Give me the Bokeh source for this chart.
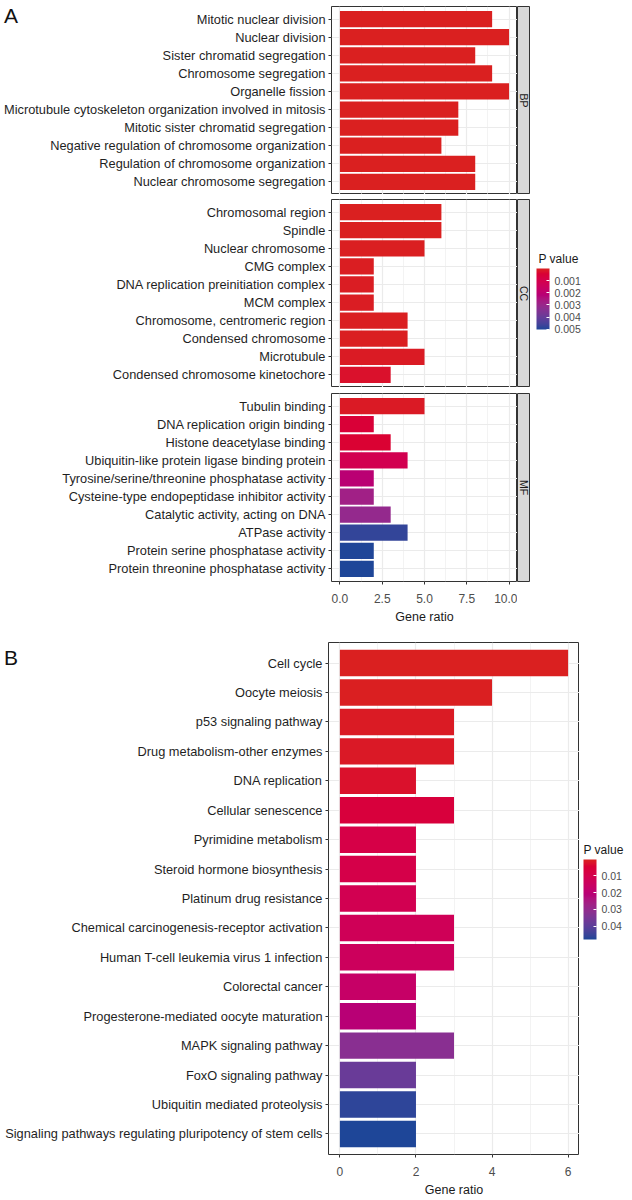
import math
from bokeh.plotting import figure
from bokeh.models import (ColumnDataSource, FactorRange, Range1d, FixedTicker, Div,
                          LinearColorMapper, ColorBar, CustomJSTickFormatter, Label, AllLabels)
from bokeh.layouts import row, column
from bokeh.core.properties import value
from bokeh.embed import file_html
from bokeh.resources import INLINE

FONT = "Liberation Sans"

# ---------------- data: panel A (GO) ----------------
bp_terms = ["Mitotic nuclear division", "Nuclear division", "Sister chromatid segregation",
            "Chromosome segregation", "Organelle fission",
            "Microtubule cytoskeleton organization involved in mitosis",
            "Mitotic sister chromatid segregation", "Negative regulation of chromosome organization",
            "Regulation of chromosome organization", "Nuclear chromosome segregation"]
bp_ratio = [9, 10, 8, 9, 10, 7, 7, 6, 8, 8]
bp_p = [2e-6, 1e-6, 5e-6, 3e-6, 1e-6, 8e-6, 1e-5, 2e-5, 4e-6, 6e-6]

cc_terms = ["Chromosomal region", "Spindle", "Nuclear chromosome", "CMG complex",
            "DNA replication preinitiation complex", "MCM complex",
            "Chromosome, centromeric region", "Condensed chromosome", "Microtubule",
            "Condensed chromosome kinetochore"]
cc_ratio = [6, 6, 5, 2, 2, 2, 4, 4, 5, 3]
cc_p = [1e-5, 2e-5, 3e-5, 5e-5, 6e-5, 6e-5, 4e-5, 4e-5, 8e-5, 2.5e-4]

mf_terms = ["Tubulin binding", "DNA replication origin binding", "Histone deacetylase binding",
            "Ubiquitin-like protein ligase binding protein",
            "Tyrosine/serine/threonine phosphatase activity",
            "Cysteine-type endopeptidase inhibitor activity",
            "Catalytic activity, acting on DNA", "ATPase activity",
            "Protein serine phosphatase activity", "Protein threonine phosphatase activity"]
mf_ratio = [5, 2, 3, 4, 2, 2, 3, 4, 2, 2]
mf_p = [1e-4, 5e-4, 4e-4, 1.1e-3, 2.1e-3, 2.8e-3, 3.1e-3, 4.8e-3, 5.0e-3, 5.02e-3]

go_ticks = [0, 2.5, 5, 7.5, 10]
go_tick_labels = ["0.0", "2.5", "5.0", "7.5", "10.0"]
go_minor = [1.25, 3.75, 6.25, 8.75]
go_legend_ticks = [0.001, 0.002, 0.003, 0.004, 0.005]
facet_names = ["BP", "CC", "MF"]

# ---------------- data: panel B (KEGG) ----------------
kegg_terms = ["Cell cycle", "Oocyte meiosis", "p53 signaling pathway",
              "Drug metabolism-other enzymes", "DNA replication", "Cellular senescence",
              "Pyrimidine metabolism", "Steroid hormone biosynthesis", "Platinum drug resistance",
              "Chemical carcinogenesis-receptor activation",
              "Human T-cell leukemia virus 1 infection", "Colorectal cancer",
              "Progesterone-mediated oocyte maturation", "MAPK signaling pathway",
              "FoxO signaling pathway", "Ubiquitin mediated proteolysis",
              "Signaling pathways regulating pluripotency of stem cells"]
kegg_ratio = [6, 4, 3, 3, 2, 3, 2, 2, 2, 3, 3, 2, 2, 3, 2, 2, 2]
kegg_p = [0.0002, 0.0005, 0.001, 0.0015, 0.0025, 0.006, 0.0085, 0.009, 0.011, 0.0125,
          0.014, 0.0165, 0.021, 0.032, 0.038, 0.0465, 0.048]
kegg_ticks = [0, 2, 4, 6]
kegg_minor = [1, 3, 5]
kegg_legend_ticks = [0.01, 0.02, 0.03, 0.04]

LOW_COLOR = (218, 32, 32)
HIGH_COLOR = (30, 70, 152)

# ---------------- geometry (pixels) ----------------
A_LEFT = 331
A_FRAME_W = 186
B_LEFT = 328
B_FRAME_W = 251
A_X = (-0.5, 10.5)
B_X = (-0.3, 6.3)
LABEL_SIZE = "12.8px"


# ---------------- LCh gradient palette ----------------
def _lin(c):
    c = c / 255.0
    return c / 12.92 if c <= 0.04045 else ((c + 0.055) / 1.055) ** 2.4


def _gam(c):
    c = max(0.0, min(1.0, c))
    v = 12.92 * c if c <= 0.0031308 else 1.055 * c ** (1 / 2.4) - 0.055
    return int(round(max(0, min(1, v)) * 255))


WX, WY, WZ = 0.95047, 1.0, 1.08883


def _f(t):
    d = 6 / 29
    return t ** (1 / 3) if t > d ** 3 else t / (3 * d * d) + 4 / 29


def _finv(t):
    d = 6 / 29
    return t ** 3 if t > d else 3 * d * d * (t - 4 / 29)


def rgb_to_lch(rgb):
    r, g, b = (_lin(c) for c in rgb)
    X = 0.4124 * r + 0.3576 * g + 0.1805 * b
    Y = 0.2126 * r + 0.7152 * g + 0.0722 * b
    Z = 0.0193 * r + 0.1192 * g + 0.9505 * b
    fx, fy, fz = _f(X / WX), _f(Y / WY), _f(Z / WZ)
    L = 116 * fy - 16
    a = 500 * (fx - fy)
    bb = 200 * (fy - fz)
    return L, math.hypot(a, bb), math.atan2(bb, a)


def lch_to_hex(L, C, h):
    a, bb = C * math.cos(h), C * math.sin(h)
    fy = (L + 16) / 116
    fx = fy + a / 500
    fz = fy - bb / 200
    X, Y, Z = WX * _finv(fx), WY * _finv(fy), WZ * _finv(fz)
    r = 3.2406 * X - 1.5372 * Y - 0.4986 * Z
    g = -0.9689 * X + 1.8758 * Y + 0.0415 * Z
    b = 0.0557 * X - 0.2040 * Y + 1.0570 * Z
    return "#%02x%02x%02x" % (_gam(r), _gam(g), _gam(b))


def make_palette(n=256):
    L1, C1, h1 = rgb_to_lch(LOW_COLOR)
    L2, C2, h2 = rgb_to_lch(HIGH_COLOR)
    out = []
    for i in range(n):
        t = i / (n - 1)
        out.append(lch_to_hex(L1 + (L2 - L1) * t, C1 + (C2 - C1) * t, h1 + (h2 - h1) * t))
    return out


PAL = make_palette()
PAL_REV = PAL[::-1]

go_all_p = bp_p + cc_p + mf_p
go_mapper = LinearColorMapper(palette=PAL, low=min(go_all_p), high=max(go_all_p))
kegg_mapper = LinearColorMapper(palette=PAL, low=min(kegg_p), high=max(kegg_p))

GRID = "#EBEBEB"
DARK = "#333333"


def style_main(p):
    p.outline_line_color = DARK
    p.outline_line_width = 1
    p.background_fill_color = "white"
    p.ygrid.grid_line_color = GRID
    p.ygrid.grid_line_width = 1.2
    p.xgrid.grid_line_color = GRID
    p.xgrid.grid_line_width = 1.2
    p.xgrid.minor_grid_line_color = GRID
    p.xgrid.minor_grid_line_width = 0.6
    ya = p.yaxis[0]
    ya.axis_line_color = None
    ya.major_tick_out = 3
    ya.major_tick_in = 0
    ya.major_tick_line_color = DARK
    ya.major_label_standoff = 3
    ya.major_label_text_font = FONT
    ya.major_label_text_font_size = LABEL_SIZE
    ya.major_label_text_color = "#1f1f1f"
    ya.minor_tick_line_color = None


def style_xaxis(p, ticks, labels):
    xa = p.xaxis[0]
    xa.major_label_overrides = {t: l for t, l in zip(ticks, labels)}
    xa.axis_line_color = None
    xa.major_tick_out = 3
    xa.major_tick_in = 0
    xa.major_tick_line_color = DARK
    xa.minor_tick_line_color = None
    xa.major_label_standoff = 8
    xa.major_label_text_font = FONT
    xa.major_label_text_font_size = "12px"
    xa.major_label_text_color = "#4d4d4d"
    xa.axis_label = "Gene ratio"
    xa.axis_label_text_font = FONT
    xa.axis_label_text_font_size = "12.5px"
    xa.axis_label_text_font_style = "normal"
    xa.axis_label_text_color = "#1a1a1a"
    xa.axis_label_standoff = 4


def facet_fig(terms, ratio, pvals, top, bottom, show_x):
    src = ColumnDataSource(dict(term=terms, ratio=ratio, p=pvals))
    p = figure(width=A_LEFT + A_FRAME_W, height=top + 188 + bottom, output_backend="svg",
               toolbar_location=None,
               y_range=FactorRange(factors=list(reversed(terms)), range_padding=0.2,
                                   range_padding_units="absolute"),
               x_range=Range1d(*A_X), min_border=0,
               min_border_left=A_LEFT, min_border_right=0, min_border_top=top,
               min_border_bottom=bottom)
    p.hbar(y="term", right="ratio", left=0, height=0.9, source=src,
           fill_color={"field": "p", "transform": go_mapper}, line_color=None)
    style_main(p)
    tk = FixedTicker(ticks=go_ticks, minor_ticks=go_minor)
    p.xgrid.ticker = tk
    p.xaxis[0].ticker = tk
    style_xaxis(p, go_ticks, go_tick_labels)
    if not show_x:
        p.xaxis.visible = False
    return p


def strip_fig(name, top, bottom):
    s = figure(width=13, height=top + 188 + bottom, output_backend="svg", toolbar_location=None,
               x_range=Range1d(0, 1), y_range=Range1d(0, 1), min_border=0,
               min_border_top=top, min_border_bottom=bottom,
               x_axis_location=None, y_axis_location=None)
    s.grid.visible = False
    s.background_fill_color = "#D9D9D9"
    s.outline_line_color = DARK
    s.text(x=[0.5], y=[0.5], text=[name], angle=-math.pi / 2, text_align="center",
           text_baseline="middle", text_font=value(FONT), text_font_size="10.5px",
           text_color="#1a1a1a")
    return s


def legend_fig(width, top, frame_h, bottom, mapper_low, mapper_high, ticks, fmt_digits,
               bar_h, loc, title_xy):
    lf = figure(width=width, height=top + frame_h + bottom, output_backend="svg",
                toolbar_location=None, x_range=Range1d(0, width), y_range=Range1d(0, frame_h),
                min_border=0, min_border_top=top, min_border_bottom=bottom,
                x_axis_location=None, y_axis_location=None)
    lf.grid.visible = False
    lf.outline_line_color = None
    cb_mapper = LinearColorMapper(palette=PAL_REV, low=-mapper_high, high=-mapper_low)
    cb = ColorBar(color_mapper=cb_mapper, orientation="vertical", width=13, height=bar_h,
                  location=loc, padding=0, margin=0,
                  ticker=FixedTicker(ticks=[-t for t in ticks]),
                  formatter=CustomJSTickFormatter(code="return (-tick).toFixed(%d)" % fmt_digits),
                  major_label_policy=AllLabels(),
                  major_label_text_font=FONT, major_label_text_font_size="10.5px",
                  major_label_text_color="#4d4d4d", label_standoff=5,
                  major_tick_line_color="white", major_tick_in=3, major_tick_out=0,
                  minor_tick_line_color=None, bar_line_color=None,
                  background_fill_color=None, border_line_color=None)
    lf.add_layout(cb, "center")
    lf.add_layout(Label(x=title_xy[0], y=title_xy[1], text="P value", text_font=FONT,
                        text_font_size="12px", text_color="#1a1a1a",
                        text_baseline="middle", text_align="left"))
    return lf


# ---------------- panel A ----------------
bp = facet_fig(bp_terms, bp_ratio, bp_p, 6, 0, False)
cc = facet_fig(cc_terms, cc_ratio, cc_p, 5, 0, False)
mf = facet_fig(mf_terms, mf_ratio, mf_p, 6, 46, True)

bp_s = strip_fig(facet_names[0], 6, 0)
cc_s = strip_fig(facet_names[1], 5, 0)
mf_s = strip_fig(facet_names[2], 6, 46)

leg_a = legend_fig(632 - A_LEFT - A_FRAME_W - 13, 5, 188, 0, min(go_all_p), max(go_all_p),
                   go_legend_ticks, 3, 61, (6, 58), (8, 129))

panel_a = column(row(bp, bp_s), row(cc, cc_s, leg_a), row(mf, mf_s), spacing=0)

# ---------------- panel B ----------------
ksrc = ColumnDataSource(dict(term=kegg_terms, ratio=kegg_ratio, p=kegg_p))
pb = figure(width=B_LEFT + B_FRAME_W, height=15 + 515 + 42, output_backend="svg",
            toolbar_location=None,
            y_range=FactorRange(factors=list(reversed(kegg_terms)), range_padding=0.2,
                                range_padding_units="absolute"),
            x_range=Range1d(*B_X), min_border=0, min_border_left=B_LEFT,
            min_border_right=0, min_border_top=15, min_border_bottom=42)
pb.hbar(y="term", right="ratio", left=0, height=0.9, source=ksrc,
        fill_color={"field": "p", "transform": kegg_mapper}, line_color=None)
style_main(pb)
ktk = FixedTicker(ticks=kegg_ticks, minor_ticks=kegg_minor)
pb.xgrid.ticker = ktk
pb.xaxis[0].ticker = ktk
style_xaxis(pb, kegg_ticks, [str(t) for t in kegg_ticks])

leg_b = legend_fig(632 - B_LEFT - B_FRAME_W, 15, 515, 42, min(kegg_p), max(kegg_p),
                   kegg_legend_ticks, 2, 80, (4, 215), (4, 306))

# ---------------- panel letters ----------------
letter_style = {"position": "absolute", "font-family": FONT, "font-size": "21px",
                "line-height": "1", "color": "#111111", "z-index": "10", "margin": "0"}
div_a = Div(text="A", width=20, height=22, styles=dict(letter_style, left="4px", top="5px"))
div_b = Div(text="B", width=20, height=22, styles=dict(letter_style, left="4px", top="647px"))

layout = column(div_a, div_b, panel_a, row(pb, leg_b), spacing=0)

open("out.html", "w").write(file_html(layout, INLINE))
